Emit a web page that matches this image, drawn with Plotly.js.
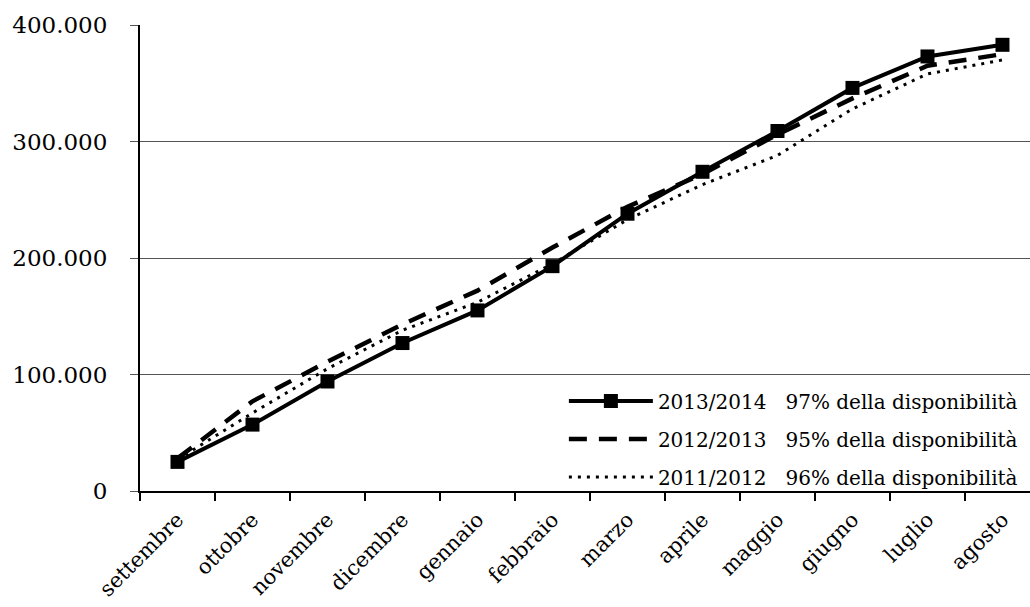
<!DOCTYPE html>
<html>
<head>
<meta charset="utf-8">
<script src="https://cdn.plot.ly/plotly-3.0.1.min.js"></script>
<style>html,body{margin:0;padding:0;background:#fff;overflow:hidden}#chart{width:1030px;height:607px}</style>
</head>
<body>
<div id="chart"></div>
<script>
const months = ["settembre","ottobre","novembre","dicembre","gennaio","febbraio","marzo","aprile","maggio","giugno","luglio","agosto"];
const s2013_2014 = [25000, 57000, 94000, 127000, 155000, 193000, 238000, 274000, 309000, 346000, 373000, 383000];
const s2012_2013 = [28000, 77000, 111000, 143000, 172000, 209000, 244000, 272000, 306000, 337000, 365000, 375000];
const s2011_2012 = [27000, 67000, 105000, 138000, 162000, 195000, 233000, 263000, 288000, 328000, 358000, 370000];
const names = [
  "2013/2014\u00a0\u00a0 97% della disponibilità",
  "2012/2013\u00a0\u00a0 95% della disponibilità",
  "2011/2012\u00a0\u00a0 96% della disponibilità"
];
const yTicks = [0, 100000, 200000, 300000, 400000];

const traces = [
  {x: months, y: s2013_2014, name: names[0], type: "scatter", mode: "lines+markers", legendgroup: "a",
   line: {color: "#000", width: 4}, marker: {symbol: "square", size: 14, color: "#000"}},
  {x: months, y: s2012_2013, name: names[1], type: "scatter", mode: "lines", legendgroup: "b",
   line: {color: "#000", width: 4.5, dash: "18px,12px"}},
  {x: months, y: s2011_2012, name: names[2], type: "scatter", mode: "lines", legendgroup: "c",
   line: {color: "#000", width: 3, dash: "3px,6px"}}
];

const layout = {
  width: 1030, height: 607,
  margin: {l: 140, r: 0, t: 25, b: 116},
  paper_bgcolor: "#fff", plot_bgcolor: "#fff",
  separators: ",.",
  font: {family: "DejaVu Serif, serif", color: "#000", size: 20},
  showlegend: true,
  legend: {x: 0.992, xanchor: "right", y: -0.012, yanchor: "bottom",
           bgcolor: "rgba(0,0,0,0)", font: {size: 20, family: "DejaVu Serif, serif"},
           traceorder: "grouped", tracegroupgap: 9, itemwidth: 84},
  xaxis: {type: "category", range: [-0.5, 11.367], tickson: "boundaries",
          ticks: "outside", ticklen: 8, tickcolor: "#000", tickwidth: 1.5,
          showline: true, linecolor: "#000", linewidth: 2,
          showgrid: false, zeroline: false, tickangle: -45,
          tickfont: {size: 21, family: "DejaVu Serif, serif"}, ticklabelstandoff: 6},
  yaxis: {range: [0, 400000], tickvals: yTicks, tickformat: ",d",
          ticks: "outside", ticklen: 8, tickcolor: "#555",
          showline: true, linecolor: "#000", linewidth: 2,
          showgrid: true, gridcolor: "#555", gridwidth: 1, zeroline: false,
          tickfont: {size: 23, family: "DejaVu Serif, serif"}, ticklabelstandoff: 18}
};

Plotly.newPlot("chart", traces, layout, {displayModeBar: false, staticPlot: true});
</script>
</body>
</html>
